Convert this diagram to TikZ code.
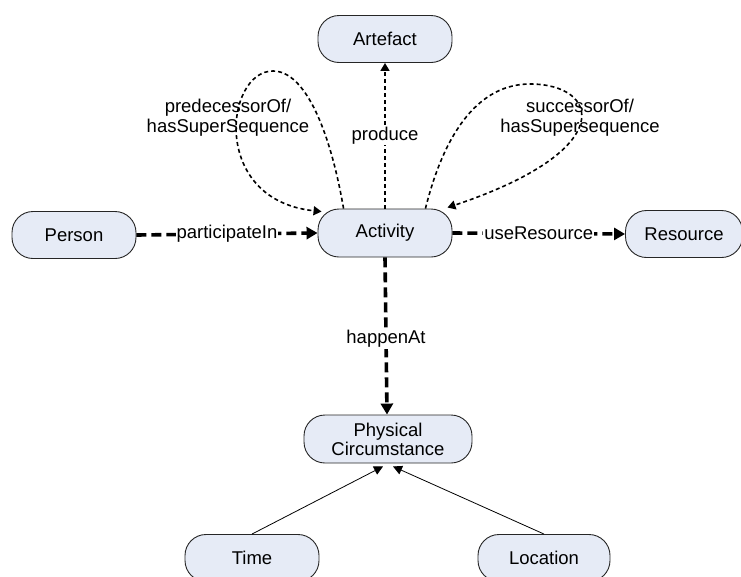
\documentclass[tikz,border=0pt]{standalone}
\usepackage{fontspec}
\setmainfont{Liberation Sans}
\usetikzlibrary{arrows.meta,calc}
\definecolor{boxfill}{RGB}{230,235,246}
\begin{document}
\begin{tikzpicture}[x=1pt,y=-1pt,
  every node/.style={font=\fontsize{18.5}{21}\selectfont},
  cls/.style={draw=black!85, line width=0.9pt, fill=boxfill, rounded corners=21pt,
    minimum height=47pt, inner sep=0pt, align=center},
  thickrel/.style={line width=3.6pt, dash pattern=on 10pt off 5pt,
    -{Triangle[length=11pt,width=12pt]}},
  thinrel/.style={line width=1.6pt, dash pattern=on 4pt off 3pt,
    -{Triangle[length=8pt,width=9pt]}},
  solidrel/.style={line width=0.8pt, -{Triangle[length=9pt,width=9pt]}},
  lbl/.style={fill=white, inner sep=1pt},
  loopl/.style={align=center, inner sep=0pt}]
\useasboundingbox (0,0) rectangle (741,576);

\node[cls, minimum width=134pt] (art) at (385,39) {Artefact};
\node[cls, minimum width=134pt, minimum height=48pt] (act) at (385,233) {Activity};
\node[cls, minimum width=124pt] (pers) at (74,235) {Person};
\node[cls, minimum width=117pt] (res) at (684,234) {Resource};
\node[cls, minimum width=168pt, minimum height=48pt] (pc) at (388,439) {Physical\\[-2pt]Circumstance};
\node[cls, minimum width=134pt] (time) at (252,558) {Time};
\node[cls, minimum width=132pt] (loc) at (544,558) {Location};

% produce
\draw[thinrel] (act.north) -- node[lbl] {produce} (art.south);
% participateIn
\draw[thickrel] (pers.east) -- node[lbl] {participateIn} (act.west);
% useResource
\draw[thickrel] (act.east) -- node[lbl] {useResource} (res.west);
% happenAt
\draw[thickrel] (act.south) -- node[lbl, pos=0.52] {happenAt} ([xshift=-1pt]pc.north);

% Time / Location
\draw[solidrel] (time.north) -- ([xshift=-5pt, yshift=-3pt]pc.south);
\draw[solidrel] (loc.north) -- ([xshift=5pt, yshift=-3pt]pc.south);

% self loops
\coordinate (ls) at ($(act.north west)+(26,0)$);
\coordinate (le) at ($(act.north west)+(4,3)$);
\coordinate (rs) at ($(act.north east)+(-27,0)$);
\coordinate (re) at ($(act.north east)+(-5,-1)$);
\draw[thinrel] (ls) .. controls (330,130) and (305,71) .. (273,71)
  .. controls (225,71) and (210,200) .. (le);
\draw[thinrel] (rs) .. controls (445,130) and (480,84) .. (530,84)
  .. controls (600,84) and (620,150) .. (re);

\node[loopl] (pl) at (228,118) {predecessorOf/\\[-1pt]hasSuperSequence};
\node[loopl] (sl) at (580,118) {successorOf/\\[-1pt]hasSupersequence};
\end{tikzpicture}
\end{document}
